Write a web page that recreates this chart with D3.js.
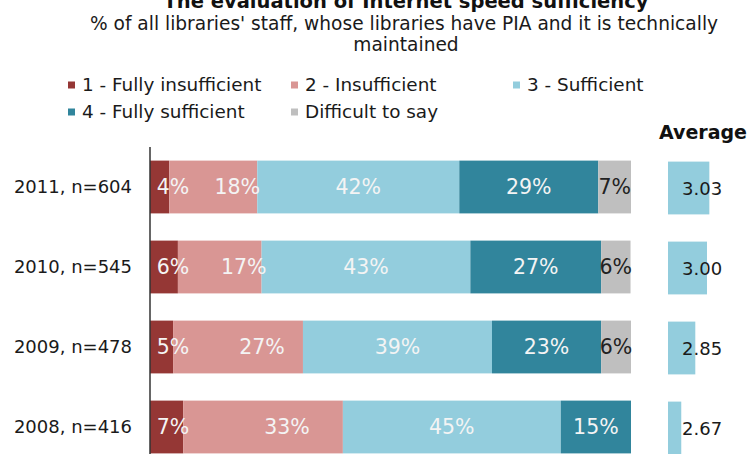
<!DOCTYPE html>
<html>
<head>
<meta charset="utf-8">
<script src="https://cdn.jsdelivr.net/npm/d3@7"></script>
<style>
  body { margin: 0; background: #fff; }
  svg { display: block; font-family: "DejaVu Sans", Verdana, sans-serif; }
</style>
</head>
<body>
<div id="chart"></div>
<script>
var svgWidth = 750;
var svgHeight = 454;

// data
var categories = ["2011, n=604", "2010, n=545", "2009, n=478", "2008, n=416"];
var seriesNames = ["1 - Fully insufficient", "2 - Insufficient", "3 - Sufficient",
                   "4 - Fully sufficient", "Difficult to say"];
var fullyInsufficient = [4.0, 5.8, 4.8, 6.9];
var insufficient      = [18.3, 17.4, 27.0, 33.2];
var sufficient        = [42.0, 43.4, 39.3, 45.3];
var fullySufficient   = [28.9, 27.2, 22.7, 14.6];
var difficult         = [6.8, 6.1, 6.2, 0];
var averages          = [3.03, 3.00, 2.85, 2.67];

var colors = ["#953735", "#d99694", "#93cddd", "#31859c", "#bfbfbf"];
var labelColors = ["#f4f4f4", "#f4f4f4", "#f4f4f4", "#f4f4f4", "#222"];

var seriesValues = [fullyInsufficient, insufficient, sufficient, fullySufficient, difficult];

var rows = categories.map(function(c, i) {
    var r = { cat: c, avg: averages[i] };
    seriesNames.forEach(function(s, j) { r[s] = seriesValues[j][i]; });
    return r;
});

var svg = d3.select("#chart")
    .append("svg")
    .attr("width", svgWidth)
    .attr("height", svgHeight);

// titles
svg.append("text")
    .attr("x", 406).attr("y", 8)
    .attr("text-anchor", "middle")
    .attr("font-size", 19.5).attr("font-weight", "bold")
    .attr("fill", "#111")
    .text("The evaluation of Internet speed sufficiency");

svg.append("text")
    .attr("x", 404).attr("y", 30)
    .attr("text-anchor", "middle")
    .attr("font-size", 18.6)
    .attr("fill", "#1a1a1a")
    .text("% of all libraries' staff, whose libraries have PIA and it is technically");

svg.append("text")
    .attr("x", 406).attr("y", 51)
    .attr("text-anchor", "middle")
    .attr("font-size", 18.6)
    .attr("fill", "#1a1a1a")
    .text("maintained");

// legend
var colX = [68, 291, 513];
var legend = svg.append("g").selectAll("g")
    .data(seriesNames)
    .enter()
    .append("g")
    .attr("transform", function(d, i) {
        return "translate(" + colX[i % 3] + "," + (85 + Math.floor(i / 3) * 27) + ")";
    });
legend.append("rect")
    .attr("x", 0).attr("y", -3.5)
    .attr("width", 7).attr("height", 7)
    .attr("fill", function(d, i) { return colors[i]; });
legend.append("text")
    .attr("x", 14).attr("y", 6)
    .attr("font-size", 18.4)
    .attr("fill", "#1a1a1a")
    .text(function(d) { return d; });

// scales
var xScale = d3.scaleLinear().domain([0, 100]).range([150, 631]);
var yScale = d3.scaleBand().domain(categories).range([147, 467])
    .paddingInner(0.34).paddingOuter(0.17);
var avgScale = d3.scaleLinear().domain([2.5, 3.5]).range([668, 746]);

var stack = d3.stack().keys(seriesNames);
var stacked = stack(rows);

var layers = svg.append("g").selectAll("g")
    .data(stacked)
    .enter()
    .append("g")
    .attr("fill", function(d, i) { return colors[i]; });

layers.selectAll("rect")
    .data(function(d) { return d; })
    .enter()
    .append("rect")
    .attr("x", function(d) { return xScale(d[0]); })
    .attr("y", function(d) { return yScale(d.data.cat); })
    .attr("width", function(d) { return xScale(d[1]) - xScale(d[0]); })
    .attr("height", yScale.bandwidth());

// data labels, on top of all segments
var fmt = d3.format(".0f");
var labelGroup = svg.append("g");
stacked.forEach(function(layer, li) {
    labelGroup.append("g").selectAll("text")
        .data(layer.filter(function(d) { return d[1] - d[0] > 0; }))
        .enter()
        .append("text")
        .attr("x", function(d) {
            var cx = (xScale(d[0]) + xScale(d[1])) / 2;
            if (li === 0) return Math.max(cx, xScale(0) + 23);
            if (li === 1) return cx + 24;
            return cx;
        })
        .attr("y", function(d) { return yScale(d.data.cat) + yScale.bandwidth() / 2 + 7; })
        .attr("text-anchor", "middle")
        .attr("font-size", 20.5)
        .attr("fill", labelColors[li])
        .text(function(d) { return fmt(d[1] - d[0]) + "%"; });
});

// category labels
svg.append("g").selectAll("text")
    .data(categories)
    .enter()
    .append("text")
    .attr("x", 132)
    .attr("y", function(d) { return yScale(d) + yScale.bandwidth() / 2 + 6; })
    .attr("text-anchor", "end")
    .attr("font-size", 18)
    .attr("fill", "#1a1a1a")
    .text(function(d) { return d; });

// axis line
svg.append("line")
    .attr("x1", 150).attr("x2", 150)
    .attr("y1", 147).attr("y2", svgHeight)
    .attr("stroke", "#333").attr("stroke-width", 1.5);

// averages
svg.append("text")
    .attr("x", 747).attr("y", 139)
    .attr("text-anchor", "end")
    .attr("font-size", 19).attr("font-weight", "bold")
    .attr("fill", "#111")
    .text("Average");

svg.append("g").selectAll("rect")
    .data(rows)
    .enter()
    .append("rect")
    .attr("x", avgScale(2.5))
    .attr("y", function(d) { return yScale(d.cat) + 1; })
    .attr("width", function(d) { return avgScale(d.avg) - avgScale(2.5); })
    .attr("height", yScale.bandwidth())
    .attr("fill", colors[2]);

svg.append("g").selectAll("text")
    .data(rows)
    .enter()
    .append("text")
    .attr("x", 682)
    .attr("y", function(d) { return yScale(d.cat) + yScale.bandwidth() / 2 + 8; })
    .attr("font-size", 18)
    .attr("fill", "#1a1a1a")
    .text(function(d) { return d3.format(".2f")(d.avg); });
</script>
</body>
</html>
